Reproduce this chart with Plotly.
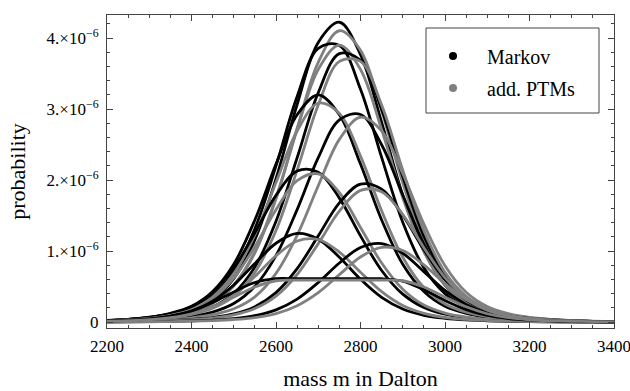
import plotly.graph_objects as go

# mass grid (Dalton)
mass = [2200, 2250, 2300, 2350, 2400, 2450, 2500, 2550, 2600, 2650, 2700, 2750, 2800,
        2850, 2900, 2950, 3000, 3050, 3100, 3150, 3200, 3250, 3300, 3350, 3400]

# probabilities, in units of 1e-6
markov_1 = [0.016, 0.030, 0.055, 0.096, 0.174, 0.319, 0.612, 1.159, 2.018, 3.064, 3.937, 4.222, 3.766,
            2.810, 1.785, 1.003, 0.520, 0.273, 0.151, 0.084, 0.048, 0.026, 0.014, 0.007, 0.003]
ptm_1 = [0.013, 0.025, 0.046, 0.082, 0.147, 0.265, 0.506, 0.974, 1.734, 2.729, 3.658, 4.102, 3.826,
         2.976, 1.960, 1.126, 0.595, 0.309, 0.169, 0.094, 0.053, 0.030, 0.015, 0.008, 0.004]
markov_2 = [0.019, 0.036, 0.064, 0.110, 0.197, 0.368, 0.711, 1.314, 2.199, 3.176, 3.854, 3.895, 3.279,
            2.318, 1.405, 0.764, 0.399, 0.210, 0.118, 0.067, 0.038, 0.021, 0.011, 0.005, 0.002]
ptm_2 = [0.013, 0.026, 0.047, 0.082, 0.150, 0.269, 0.523, 0.991, 1.751, 2.711, 3.557, 3.900, 3.557,
         2.711, 1.751, 0.991, 0.523, 0.269, 0.150, 0.082, 0.047, 0.026, 0.013, 0.007, 0.003]
markov_3 = [0.011, 0.021, 0.039, 0.068, 0.119, 0.213, 0.404, 0.776, 1.418, 2.313, 3.229, 3.780, 3.686,
            2.994, 2.047, 1.209, 0.651, 0.337, 0.182, 0.101, 0.058, 0.033, 0.018, 0.009, 0.005]
ptm_3 = [0.009, 0.019, 0.035, 0.062, 0.108, 0.193, 0.363, 0.699, 1.288, 2.139, 3.057, 3.670, 3.670,
         3.057, 2.139, 1.288, 0.699, 0.363, 0.193, 0.108, 0.062, 0.035, 0.019, 0.009, 0.005]
markov_4 = [0.021, 0.038, 0.067, 0.123, 0.221, 0.429, 0.813, 1.437, 2.224, 2.918, 3.200, 2.918, 2.224,
            1.437, 0.813, 0.429, 0.221, 0.123, 0.067, 0.038, 0.021, 0.011, 0.005, 0.003, 0.001]
ptm_4 = [0.018, 0.033, 0.058, 0.103, 0.186, 0.352, 0.681, 1.226, 1.965, 2.690, 3.081, 2.938, 2.336,
         1.567, 0.912, 0.485, 0.253, 0.137, 0.076, 0.044, 0.025, 0.013, 0.007, 0.003, 0.002]
markov_5 = [0.007, 0.014, 0.025, 0.045, 0.078, 0.140, 0.260, 0.503, 0.935, 1.582, 2.314, 2.848, 2.922,
            2.496, 1.788, 1.096, 0.600, 0.313, 0.164, 0.092, 0.053, 0.030, 0.016, 0.008, 0.004]
ptm_5 = [0.005, 0.009, 0.018, 0.033, 0.058, 0.103, 0.186, 0.355, 0.685, 1.220, 1.919, 2.572, 2.884,
         2.691, 2.092, 1.379, 0.792, 0.418, 0.218, 0.119, 0.066, 0.038, 0.020, 0.011, 0.005]
markov_6 = [0.021, 0.037, 0.064, 0.114, 0.215, 0.412, 0.760, 1.256, 1.784, 2.126, 2.110, 1.745, 1.213,
            0.726, 0.393, 0.204, 0.109, 0.061, 0.035, 0.020, 0.011, 0.006, 0.003, 0.001, 0.001]
ptm_6 = [0.017, 0.030, 0.052, 0.093, 0.171, 0.329, 0.618, 1.062, 1.582, 1.990, 2.087, 1.822, 1.331,
         0.831, 0.462, 0.238, 0.126, 0.070, 0.039, 0.022, 0.012, 0.006, 0.003, 0.002, 0.001]
markov_7 = [0.003, 0.006, 0.011, 0.020, 0.036, 0.063, 0.113, 0.215, 0.414, 0.751, 1.213, 1.677, 1.941,
            1.872, 1.504, 1.019, 0.598, 0.320, 0.166, 0.090, 0.050, 0.029, 0.016, 0.009, 0.004]
ptm_7 = [0.002, 0.005, 0.010, 0.018, 0.032, 0.056, 0.100, 0.190, 0.364, 0.669, 1.104, 1.561, 1.854,
         1.834, 1.512, 1.047, 0.626, 0.338, 0.175, 0.094, 0.052, 0.030, 0.017, 0.009, 0.005]
markov_8 = [0.014, 0.025, 0.044, 0.080, 0.152, 0.293, 0.522, 0.824, 1.109, 1.247, 1.167, 0.912, 0.602,
            0.346, 0.183, 0.095, 0.052, 0.029, 0.017, 0.009, 0.005, 0.002, 0.001, 0.001, 0.000]
ptm_8 = [0.010, 0.018, 0.032, 0.057, 0.106, 0.206, 0.381, 0.642, 0.933, 1.141, 1.162, 0.985, 0.701,
         0.427, 0.232, 0.122, 0.064, 0.036, 0.021, 0.012, 0.006, 0.003, 0.002, 0.001, 0.000]
markov_9 = [0.001, 0.002, 0.004, 0.009, 0.016, 0.027, 0.048, 0.089, 0.171, 0.323, 0.556, 0.831, 1.049,
            1.104, 0.968, 0.709, 0.444, 0.247, 0.127, 0.067, 0.037, 0.021, 0.012, 0.006, 0.003]
ptm_9 = [0.001, 0.002, 0.003, 0.006, 0.011, 0.020, 0.035, 0.063, 0.119, 0.230, 0.415, 0.667, 0.916,
         1.052, 1.007, 0.804, 0.541, 0.316, 0.168, 0.088, 0.047, 0.026, 0.015, 0.008, 0.004]
markov_10 = [0.013, 0.023, 0.042, 0.082, 0.155, 0.274, 0.424, 0.556, 0.610, 0.610, 0.610, 0.610, 0.610,
             0.610, 0.575, 0.454, 0.303, 0.175, 0.093, 0.049, 0.026, 0.015, 0.008, 0.004, 0.002]
ptm_10 = [0.010, 0.018, 0.032, 0.061, 0.116, 0.214, 0.350, 0.493, 0.581, 0.590, 0.590, 0.590, 0.590,
          0.590, 0.581, 0.493, 0.350, 0.214, 0.116, 0.061, 0.032, 0.018, 0.010, 0.006, 0.003]

series_names = ["Markov", "add. PTMs"]
series_colors = ["rgb(0,0,0)", "rgb(128,128,128)"]

x_tick_vals = [2200, 2400, 2600, 2800, 3000, 3200, 3400]
y_tick_vals = [0, 1e-6, 2e-6, 3e-6, 4e-6]
y_tick_text = ["0", "1.×10<sup>−6</sup>", "2.×10<sup>−6</sup>",
               "3.×10<sup>−6</sup>", "4.×10<sup>−6</sup>"]

markov_curves = [markov_1, markov_2, markov_3, markov_4, markov_5,
                 markov_6, markov_7, markov_8, markov_9, markov_10]
ptm_curves = [ptm_1, ptm_2, ptm_3, ptm_4, ptm_5, ptm_6, ptm_7, ptm_8, ptm_9, ptm_10]

FONT = "Liberation Serif"
fig = go.Figure()

for mk, pt in zip(markov_curves, ptm_curves):
    for vals, col in ((mk, series_colors[0]), (pt, series_colors[1])):
        fig.add_trace(go.Scatter(
            x=mass, y=[v * 1e-6 for v in vals], mode="lines",
            line=dict(color=col, width=2.8, shape="spline", smoothing=1.0),
            showlegend=False, hoverinfo="skip"))

for i, (nm, col) in enumerate(zip(series_names, series_colors)):
    fig.add_trace(go.Scatter(
        x=[None], y=[None], mode="markers", name=nm,
        marker=dict(color=col, size=8), legendgroup=f"g{i}", showlegend=True))

axis_common = dict(
    showgrid=False, zeroline=False, showline=True, linecolor="#444", linewidth=1,
    mirror="ticks", ticks="inside", ticklen=6, tickwidth=1, tickcolor="#444",
    tickfont=dict(family=FONT, size=17, color="black"), automargin=False,
    ticklabeloverflow="allow",
)

# legend frame in paper coordinates (plot area spans 107..614 x 15..328 px)
fig.add_shape(type="rect", xref="paper", yref="paper",
              x0=(426 - 107) / 507, x1=(599 - 107) / 507,
              y0=(328 - 113) / 313, y1=(328 - 28) / 313,
              line=dict(color="#444", width=1), fillcolor="white", layer="above")

fig.update_layout(
    width=630, height=391,
    margin=dict(l=107, r=16, t=15, b=63, autoexpand=False),
    paper_bgcolor="white", plot_bgcolor="white",
    font=dict(family=FONT, color="black"),
    xaxis=dict(range=[2200, 3400], tickvals=x_tick_vals,
               minor=dict(ticks="inside", ticklen=3, dtick=50, tickcolor="#444"),
               ticklabelstandoff=3,
               title=dict(text="mass m in Dalton", font=dict(family=FONT, size=22), standoff=18),
               **axis_common),
    yaxis=dict(range=[-0.0845e-6, 4.324e-6], tickvals=y_tick_vals, ticktext=y_tick_text,
               minor=dict(ticks="inside", ticklen=3, dtick=0.2e-6, tick0=0, tickcolor="#444"),
               ticklabelstandoff=4,
               title=dict(text="probability", font=dict(family=FONT, size=22), standoff=14),
               **axis_common),
    legend=dict(x=(419 - 107) / 507, y=(328 - 36.5) / 313, xanchor="left", yanchor="top",
                bgcolor="rgba(0,0,0,0)", borderwidth=0,
                font=dict(family=FONT, size=20), tracegroupgap=3, itemwidth=58),
    showlegend=True,
)

fig.write_html("out.html")
